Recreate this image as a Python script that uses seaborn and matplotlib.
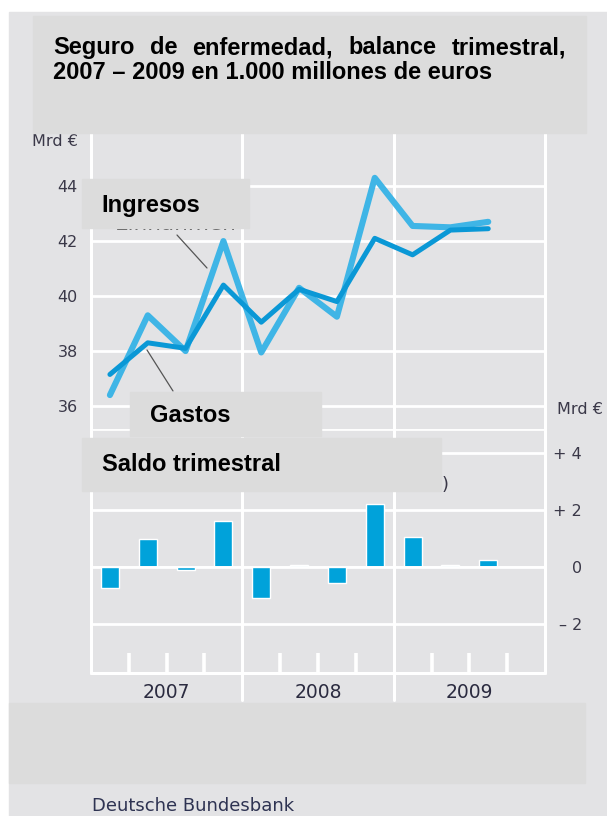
import matplotlib
matplotlib.use('Agg')
import matplotlib.pyplot as plt
import seaborn as sns
import pandas as pd
from matplotlib.patches import Rectangle
from matplotlib.lines import Line2D

# -----------------------------
# Data (Mrd euro, quarterly)
# -----------------------------
trimestres = ['I/07', 'II/07', 'III/07', 'IV/07',
              'I/08', 'II/08', 'III/08', 'IV/08',
              'I/09', 'II/09', 'III/09', 'IV/09']
ingresos = [36.4, 39.3, 38.0, 42.0, 37.95, 40.3, 39.25, 44.3, 42.55, 42.5, 42.7]
gastos = [37.15, 38.3, 38.1, 40.4, 39.05, 40.25, 39.8, 42.1, 41.5, 42.4, 42.45]
saldo = [-0.75, 1.0, -0.1, 1.6, -1.1, 0.08, -0.55, 2.2, 1.05, 0.08, 0.25]
anios = ['2007', '2008', '2009']
ticks_izq = [36, 38, 40, 42, 44]
ticks_der = [-2, 0, 2, 4]
labels_der = ['\u2013 2', '0', '+ 2', '+ 4']

W, H = 607, 816
BG = '#e3e3e5'
BOX = '#dcdcdc'
TXT = '#3a3848'
CLARO = '#3fb5e6'
OSCURO = '#0a98d6'
BARRA = '#00a2da'


def fx(px):
    return px / W


def fy(py):
    return 1 - py / H


sns.set_theme(style='darkgrid', rc={'axes.facecolor': BG, 'grid.color': 'white',
                                    'grid.linewidth': 2})
plt.rcParams['font.family'] = ['DejaVu Sans']

fig = plt.figure(figsize=(W / 100, H / 100), dpi=100, facecolor='white')
fig.add_artist(Rectangle((fx(9), 0), 1 - fx(9), fy(12), transform=fig.transFigure,
                         color=BG, zorder=-5))

ax1 = fig.add_axes([fx(91), fy(430), (545 - 91) / W, (430 - 133) / H])
ax2 = fig.add_axes([fx(91), fy(673), (545 - 91) / W, (673 - 430) / H])

# -----------------------------
# Top panel: lines
# -----------------------------
df = pd.DataFrame({'q': range(len(ingresos)), 'ingresos': ingresos, 'gastos': gastos})
sns.lineplot(data=df, x='q', y='ingresos', ax=ax1, color=CLARO, lw=4.4, zorder=3)
sns.lineplot(data=df, x='q', y='gastos', ax=ax1, color=OSCURO, lw=3.6, zorder=4)
ax1.set_xlim(-0.5, 11.5)
ax1.set_ylim(35.13, 45.93)
ax1.set_yticks(ticks_izq)
ax1.set_xticks([])
ax1.set_xlabel('')
ax1.set_ylabel('')
ax1.tick_params(axis='y', length=0, pad=9.4, labelsize=11.5, labelcolor=TXT)
for xb in [-0.5, 3.5, 7.5, 11.5]:
    ax1.axvline(xb, color='white', lw=2.2, clip_on=False, zorder=0.6)

# -----------------------------
# Bottom panel: bars
# -----------------------------
dfb = pd.DataFrame({'trimestre': trimestres[:len(saldo)], 'saldo': saldo})
sns.barplot(data=dfb, x='trimestre', y='saldo', order=trimestres, color=BARRA,
            saturation=1, width=0.48, ax=ax2, zorder=2)
ybot, ytop = -3.72, 4.81
ax2.set_xlim(-0.5, 11.5)
ax2.set_ylim(ybot, ytop)
ax2.set_xlabel('')
ax2.set_ylabel('')
ax2.yaxis.tick_right()
ax2.set_yticks(ticks_der)
ax2.set_yticklabels(labels_der, ha='right')
ax2.tick_params(axis='y', length=0, pad=26.6, labelsize=11.5, labelcolor=TXT)
ax2.set_xticks([1.5, 5.5, 9.5])
ax2.set_xticklabels(anios)
ax2.tick_params(axis='x', length=0, pad=7, labelsize=13.5, labelcolor='#2b2b40')
ax2.grid(False, axis='x')
ax2.axhline(0, color='white', lw=1.4, zorder=3)
ax2.axhline(ybot, color='white', lw=2.2, clip_on=False, zorder=0.6)
for xb in [-0.5, 11.5]:
    ax2.axvline(xb, color='white', lw=2.2, clip_on=False, zorder=0.6)
for xb in [3.5, 7.5]:
    ax2.axvline(xb, ymin=-0.111, ymax=1, color='white', lw=2.2, clip_on=False, zorder=0.6)
ax2.vlines([0.5, 1.5, 2.5, 4.5, 5.5, 6.5, 8.5, 9.5, 10.5], ybot, ybot + 0.7,
           color='white', lw=2.6, zorder=0.6)

# axis units
fig.text(fx(78), fy(141), 'Mrd \u20ac', ha='right', va='center', fontsize=11.5, color=TXT)
fig.text(fx(557), fy(410), 'Mrd \u20ac', ha='left', va='center', fontsize=11.5, color=TXT)

# leftovers of the original labels, mostly hidden below the boxes
fig.text(fx(115), fy(230.5), 'Einnahmen', fontsize=15.5, color='#555555', va='baseline', zorder=5)
fig.text(fx(243), fy(490), '(+)', fontsize=13, color=TXT, va='baseline', zorder=5)
fig.text(fx(449), fy(490), '(\u2013)', fontsize=13, color=TXT, va='baseline', ha='right', zorder=5)

# leader lines
fig.add_artist(Line2D([fx(177), fx(207)], [fy(235), fy(268)], transform=fig.transFigure,
                      color='#555555', lw=0.9, zorder=5))
fig.add_artist(Line2D([fx(147), fx(173)], [fy(350), fy(391)], transform=fig.transFigure,
                      color='#555555', lw=0.9, zorder=5))

# -----------------------------
# Overlay boxes with Spanish labels
# -----------------------------
def caja(x0, y0, x1, y1):
    fig.add_artist(Rectangle((fx(x0), fy(y1)), (x1 - x0) / W, (y1 - y0) / H,
                             transform=fig.transFigure, color=BOX, zorder=10))


caja(33, 16, 586, 133)
caja(82, 179, 249, 228)
caja(130, 392, 321, 436)
caja(82, 438, 441, 491)
caja(9, 703, 585, 783)

bold = dict(fontsize=17, fontweight='bold', family=['Liberation Sans', 'DejaVu Sans'],
            color='black', va='baseline', zorder=11)
fig.text(fx(101), fy(212), 'Ingresos', **bold)
fig.text(fx(150), fy(422), 'Gastos', **bold)
fig.text(fx(102), fy(471), 'Saldo trimestral', **bold)

# justified first title line
renderer = fig.canvas.get_renderer()
palabras = ['Seguro', 'de', 'enfermedad,', 'balance', 'trimestral,']
txts = [fig.text(0, fy(54), p, **bold) for p in palabras]
anchos = [t.get_window_extent(renderer).width for t in txts]
hueco = ((566 - 53) - sum(anchos)) / (len(palabras) - 1)
x = 53
for t, a in zip(txts, anchos):
    t.set_x(fx(x))
    x += a + hueco
fig.text(fx(53), fy(79), '2007 \u2013 2009 en 1.000 millones de euros', **bold)

fig.text(fx(92), fy(806), 'Deutsche Bundesbank', fontsize=13, color='#2e3352', va='center')

plt.savefig('out.png', dpi=100, facecolor='white')
